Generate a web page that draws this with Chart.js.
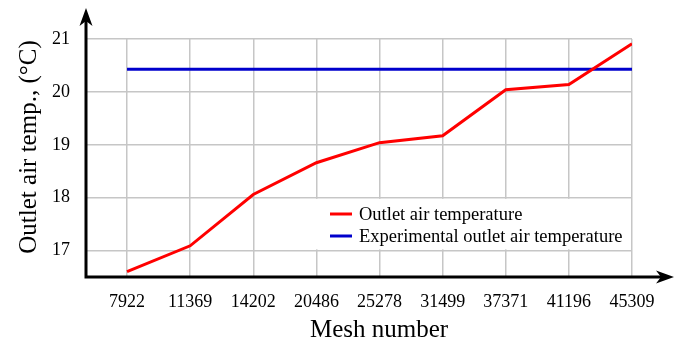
<!DOCTYPE html>
<html>
<head>
<meta charset="utf-8">
<script src="https://cdn.jsdelivr.net/npm/chart.js@4/dist/chart.umd.min.js"></script>
<style>
html,body{margin:0;padding:0;background:#fff;}
canvas{display:block;}
</style>
</head>
<body>
<canvas id="c" width="683" height="343"></canvas>
<script>
const meshNumbers = ['7922','11369','14202','20486','25278','31499','37371','41196','45309'];
const outletTemp = [16.60, 17.09, 18.06, 18.66, 19.04, 19.17, 20.04, 20.14, 20.91];
const experimentalTemp = [20.43, 20.43, 20.43, 20.43, 20.43, 20.43, 20.43, 20.43, 20.43];
const yTicks = [17, 18, 19, 20, 21];
const seriesNames = ['Outlet air temperature', 'Experimental outlet air temperature'];
const xTitle = 'Mesh number';
const yTitle = 'Outlet air temp., (\u00B0C)';

const SERIF = '"Liberation Serif", "Times New Roman", serif';
const RED = '#ff0000';
const BLUE = '#0000cc';

function arrow(ctx, tipX, tipY, dir) {
  ctx.save();
  ctx.translate(tipX, tipY);
  if (dir === 'up') ctx.rotate(-Math.PI / 2);
  ctx.beginPath();
  ctx.moveTo(0, 0);
  ctx.lineTo(-18, -6.5);
  ctx.lineTo(-13, 0);
  ctx.lineTo(-18, 6.5);
  ctx.closePath();
  ctx.fillStyle = '#000';
  ctx.fill();
  ctx.restore();
}

const decor = {
  id: 'decor',
  beforeDatasetsDraw(chart) {
    const ctx = chart.ctx;
    const ys = chart.scales.y;
    const bx = 300, by = ys.getPixelForValue(18) + 1.2, bw = chart.chartArea.right - 1 - 300;
    const bh = ys.getPixelForValue(17) - 1.2 - by;
    ctx.save();
    ctx.fillStyle = '#fff';
    ctx.fillRect(bx, by, bw, bh);
    ctx.restore();
  },
  afterDraw(chart) {
    const ctx = chart.ctx;
    const a = chart.chartArea;
    ctx.save();
    ctx.strokeStyle = '#000';
    ctx.lineWidth = 3;
    ctx.beginPath();
    ctx.moveTo(a.left, a.bottom);
    ctx.lineTo(a.left, 20);
    ctx.moveTo(a.left - 1.5, a.bottom);
    ctx.lineTo(662, a.bottom);
    ctx.stroke();
    arrow(ctx, a.left, 8, 'up');
    arrow(ctx, 674, a.bottom, 'right');

    const ds = chart.data.datasets;
    const ly = [214, 236];
    ctx.font = '18.5px ' + SERIF;
    ctx.textBaseline = 'middle';
    ctx.textAlign = 'left';
    ds.forEach((d, i) => {
      ctx.strokeStyle = d.borderColor;
      ctx.lineWidth = 3;
      ctx.beginPath();
      ctx.moveTo(330, ly[i]);
      ctx.lineTo(352, ly[i]);
      ctx.stroke();
      ctx.fillStyle = '#000';
      ctx.fillText(d.label, 359, ly[i] + 1);
    });

    ctx.fillStyle = '#000';
    ctx.font = '25px ' + SERIF;
    ctx.textAlign = 'center';
    ctx.textBaseline = 'alphabetic';
    ctx.fillText(xTitle, 379, 337);
    ctx.save();
    ctx.translate(36, 147);
    ctx.rotate(-Math.PI / 2);
    ctx.fillText(yTitle, 0, 0);
    ctx.restore();
    ctx.restore();
  }
};

new Chart(document.getElementById('c'), {
  type: 'line',
  data: {
    datasets: [
      {
        label: seriesNames[0],
        data: outletTemp.map((v, i) => ({x: i, y: v})),
        borderColor: RED,
        backgroundColor: RED,
        borderWidth: 3,
        pointRadius: 0,
        tension: 0
      },
      {
        label: seriesNames[1],
        data: experimentalTemp.map((v, i) => ({x: i, y: v})),
        borderColor: BLUE,
        backgroundColor: BLUE,
        borderWidth: 3,
        pointRadius: 0,
        tension: 0
      }
    ]
  },
  options: {
    responsive: false,
    animation: false,
    layout: {padding: {left: 0, top: 39, right: 51, bottom: 0}},
    plugins: {legend: {display: false}, tooltip: {enabled: false}},
    scales: {
      x: {
        type: 'linear',
        min: -0.65,
        max: 8,
        afterBuildTicks(s) { s.ticks = meshNumbers.map((_, i) => ({value: i})); },
        afterFit(s) { s.height = 66; },
        grid: {color: '#c6c6c6', lineWidth: 1.5, drawTicks: false},
        border: {display: false},
        ticks: {
          padding: 14,
          color: '#000',
          font: {family: SERIF, size: 18},
          maxRotation: 0,
          autoSkip: false,
          callback: (v) => meshNumbers[Math.round(v)]
        }
      },
      y: {
        type: 'linear',
        min: 16.5,
        max: 21,
        afterBuildTicks(s) { s.ticks = yTicks.map(v => ({value: v})); },
        afterFit(s) { s.width = 86; },
        grid: {color: '#c6c6c6', lineWidth: 1.5, drawTicks: false},
        border: {display: false},
        ticks: {
          padding: 16,
          color: '#000',
          font: {family: SERIF, size: 18},
          callback: (v) => String(v)
        }
      }
    }
  },
  plugins: [decor]
});
</script>
</body>
</html>
